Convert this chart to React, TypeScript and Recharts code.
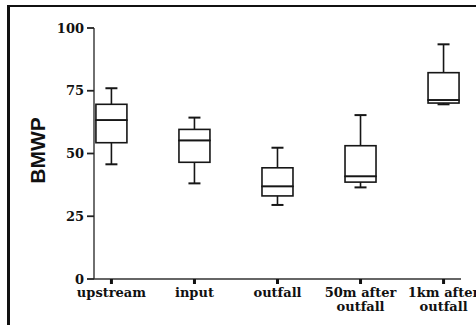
import React from 'react';
import { ComposedChart, Bar, XAxis, YAxis, Label } from 'recharts';

// ---- data ----
const categories = ['upstream', 'input', 'outfall', '50m after\noutfall', '1km after\noutfall'];
const mins = [45.7, 38.1, 29.5, 36.5, 69.6];
const q1s = [54.3, 46.5, 33.1, 38.6, 70.1];
const medians = [63.3, 55.2, 36.9, 40.9, 71.3];
const q3s = [69.6, 59.6, 44.3, 53.1, 82.2];
const maxs = [76.0, 64.3, 52.3, 65.3, 93.5];
const yTicks = [0, 25, 50, 75, 100];

const data = categories.map((name, i) => ({
  idx: i,
  name,
  base: mins[i],
  lowWhisker: q1s[i] - mins[i],
  boxLow: medians[i] - q1s[i],
  boxHigh: q3s[i] - medians[i],
  highWhisker: maxs[i] - q3s[i],
}));
const xIndexTicks = categories.map((_, i) => i);

const INK = '#161616';
const SW = 1.6;
const CAP = 12;
const serif = '"DejaVu Serif", "Liberation Serif", serif';

const Empty = () => <g />;

const LowWhiskerShape = (p: any) => {
  const { x, y, width, height } = p;
  const cx = x + width / 2;
  const yb = y + height;
  return (
    <g>
      <line x1={cx} x2={cx} y1={y} y2={yb} stroke={INK} strokeWidth={SW} />
      <line x1={cx - CAP / 2} x2={cx + CAP / 2} y1={yb} y2={yb} stroke={INK} strokeWidth={SW + 0.4} />
    </g>
  );
};

const HighWhiskerShape = (p: any) => {
  const { x, y, width, height } = p;
  const cx = x + width / 2;
  return (
    <g>
      <line x1={cx} x2={cx} y1={y} y2={y + height} stroke={INK} strokeWidth={SW} />
      <line x1={cx - CAP / 2} x2={cx + CAP / 2} y1={y} y2={y} stroke={INK} strokeWidth={SW + 0.4} />
    </g>
  );
};

const BoxShape = (p: any) => {
  const { x, y, width, height } = p;
  return <rect x={x} y={y} width={width} height={height} fill="none" stroke={INK} strokeWidth={SW} />;
};

const XTick = (p: any) => {
  const { x, y, payload } = p;
  const label = categories[payload.value] ?? '';
  const lines = label.split('\n');
  return (
    <text
      x={x}
      y={y}
      textAnchor="middle"
      fontFamily={serif}
      fontWeight="bold"
      fontSize={13}
      fill="#111"
    >
      {lines.map((l: string, i: number) => (
        <tspan key={i} x={x} dy={i === 0 ? 11 : 14}>
          {l}
        </tspan>
      ))}
    </text>
  );
};

const YLabel = (p: any) => {
  const vb = p.viewBox || { x: 0, y: 0, width: 0, height: 0 };
  const cx = 37;
  const cy = vb.y + vb.height / 2 - 3;
  return (
    <text
      x={cx}
      y={cy}
      transform={`rotate(-90, ${cx}, ${cy})`}
      textAnchor="middle"
      dominantBaseline="central"
      fontFamily='"Liberation Sans", Arial, sans-serif'
      fontWeight="bold"
      fontSize={21}
      fill="#111"
    >
      BMWP
    </text>
  );
};

export default function App() {
  return (
    <div
      style={{
        position: 'absolute',
        left: 0,
        top: 0,
        width: 476,
        height: 325,
        overflow: 'hidden',
        background: '#fff',
      }}
    >
      <div style={{ position: 'absolute', left: 0, top: 0 }}>
        <ComposedChart
          width={476}
          height={325}
          data={data}
          margin={{ top: 28, right: 15, left: 0, bottom: 6 }}
        >
          <XAxis
            dataKey="idx"
            type="number"
            domain={[-0.21, 4.21]}
            allowDataOverflow
            ticks={xIndexTicks}
            interval={0}
            height={40}
            axisLine={{ stroke: '#333', strokeWidth: 1.4 }}
            tickLine={{ stroke: '#111', strokeWidth: 3 }}
            tickSize={5}
            tickMargin={2}
            tick={<XTick />}
          />
          <XAxis
            xAxisId="top"
            orientation="top"
            type="number"
            domain={[-0.21, 4.21]}
            allowDataOverflow
            height={0}
            tick={false}
            tickLine={false}
            axisLine={{ stroke: '#8a8a8a', strokeWidth: 1.2 }}
          />
          <YAxis
            type="number"
            domain={[0, 100]}
            ticks={yTicks}
            interval={0}
            width={94}
            axisLine={{ stroke: '#333', strokeWidth: 1.4 }}
            tickLine={{ stroke: '#222', strokeWidth: 1.8 }}
            tickSize={7}
            tickMargin={3}
            tick={{ fontFamily: serif, fontWeight: 'bold', fontSize: 13, fill: '#111' }}
          >
            <Label content={<YLabel />} />
          </YAxis>
          <YAxis
            yAxisId="right"
            orientation="right"
            type="number"
            domain={[0, 100]}
            width={0}
            tick={false}
            tickLine={false}
            axisLine={{ stroke: '#8a8a8a', strokeWidth: 1.2 }}
          />
          <Bar dataKey="base" stackId="b" barSize={31} shape={<Empty />} isAnimationActive={false} />
          <Bar dataKey="lowWhisker" stackId="b" barSize={31} shape={<LowWhiskerShape />} isAnimationActive={false} />
          <Bar dataKey="boxLow" stackId="b" barSize={31} shape={<BoxShape />} isAnimationActive={false} />
          <Bar dataKey="boxHigh" stackId="b" barSize={31} shape={<BoxShape />} isAnimationActive={false} />
          <Bar dataKey="highWhisker" stackId="b" barSize={31} shape={<HighWhiskerShape />} isAnimationActive={false} />
        </ComposedChart>
      </div>
      <div
        style={{
          position: 'absolute',
          left: 7,
          top: 5,
          width: 500,
          height: 340,
          borderLeft: '3px solid #111',
          borderTop: '2px solid #111',
          pointerEvents: 'none',
        }}
      />
    </div>
  );
}
